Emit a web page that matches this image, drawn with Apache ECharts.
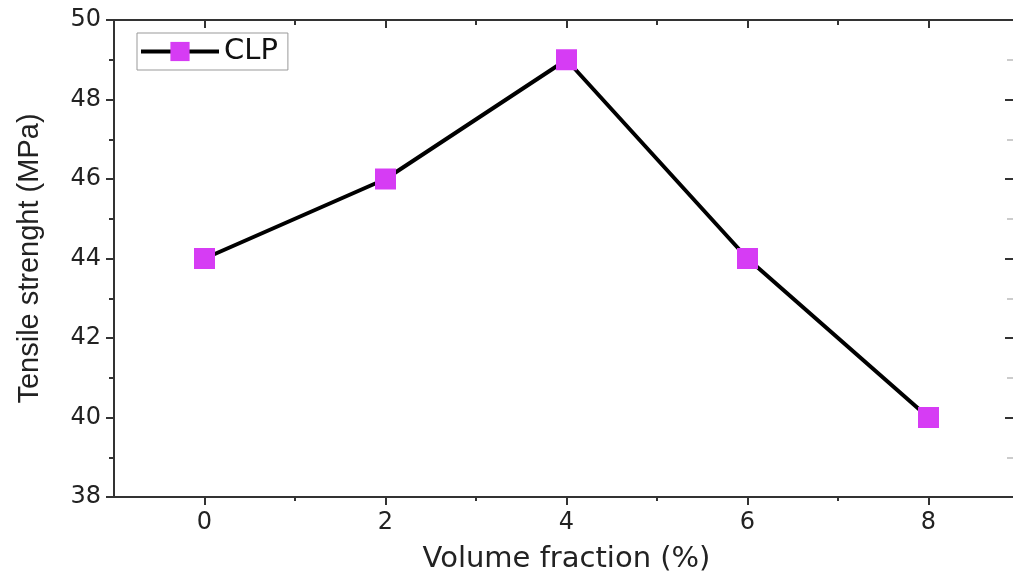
<!DOCTYPE html>
<html>
<head>
<meta charset="utf-8">
<script src="https://cdn.jsdelivr.net/npm/echarts@6/dist/echarts.min.js"></script>
<style>
  html, body { margin: 0; padding: 0; background: #fff; }
  #chart { width: 1013px; height: 577px; }
</style>
</head>
<body>
<div id="chart"></div>
<script>
// volume fraction (%) and tensile strength (MPa)
var fractions = [0, 2, 4, 6, 8];
var strength = [44, 46, 49, 44, 40];
var majorX = [0, 2, 4, 6, 8];
var minorX = [1, 3, 5, 7];

var font = 'DejaVu Sans, Liberation Sans, sans-serif';
var myChart = echarts.init(document.getElementById('chart'));

var axisColor = '#333';
var option = {
  animation: false,
  grid: { left: 114, top: 20, width: 905, height: 477, containLabel: false, outerBoundsMode: 'none' },
  legend: {
    data: ['CLP'],
    left: 137, top: 33,
    orient: 'vertical',
    padding: [4, 10, 4, 2],
    borderColor: '#999', borderWidth: 1,
    itemWidth: 78, itemHeight: 24, itemGap: 6,
    lineStyle: { width: 4, color: '#000' },
    textStyle: { fontFamily: font, fontSize: 29, color: '#111' }
  },
  xAxis: [
    {
      type: 'value', min: -1, max: 9, position: 'bottom',
      name: 'Volume fraction (%)', nameLocation: 'middle', nameGap: 48,
      nameTextStyle: { fontFamily: font, fontSize: 29, color: '#222' },
      axisLine: { show: true, onZero: false, lineStyle: { color: axisColor, width: 2 } },
      axisTick: { show: true, length: 8, customValues: majorX, lineStyle: { color: axisColor, width: 2 } },
      axisLabel: { customValues: majorX, fontFamily: font, fontSize: 24, color: '#222', margin: 14 },
      splitLine: { show: false }
    },
    {
      type: 'value', min: -1, max: 9, position: 'bottom',
      axisLine: { show: false, onZero: false },
      axisTick: { show: true, length: 4, customValues: minorX, lineStyle: { color: axisColor, width: 2 } },
      axisLabel: { show: false },
      splitLine: { show: false }
    },
    {
      type: 'value', min: -1, max: 9, position: 'top',
      axisLine: { show: true, onZero: false, lineStyle: { color: axisColor, width: 2 } },
      axisTick: { show: true, inside: true, length: 8, customValues: majorX, lineStyle: { color: axisColor, width: 2 } },
      axisLabel: { show: false },
      splitLine: { show: false }
    },
    {
      type: 'value', min: -1, max: 9, position: 'top',
      axisLine: { show: false, onZero: false },
      axisTick: { show: true, inside: true, length: 5, customValues: minorX, lineStyle: { color: axisColor, width: 2 } },
      axisLabel: { show: false },
      splitLine: { show: false }
    }
  ],
  yAxis: [
    {
      type: 'value', min: 38, max: 50, interval: 2, position: 'left',
      name: 'Tensile strenght (MPa)', nameLocation: 'middle', nameGap: 70, nameRotate: 90,
      nameTextStyle: { fontFamily: 'Liberation Sans, Arial, sans-serif', fontSize: 29, color: '#222' },
      axisLine: { show: true, onZero: false, lineStyle: { color: axisColor, width: 2 } },
      axisTick: { show: true, length: 8, lineStyle: { color: axisColor, width: 2 } },
      minorTick: { show: true, splitNumber: 2, length: 5, lineStyle: { color: axisColor, width: 2 } },
      axisLabel: { fontFamily: font, fontSize: 24, color: '#222', margin: 13 },
      splitLine: { show: false }
    },
    {
      type: 'value', min: 38, max: 50, interval: 2, position: 'right',
      axisLine: { show: true, onZero: false, lineStyle: { color: axisColor, width: 2 } },
      axisTick: { show: true, inside: true, length: 14, lineStyle: { color: axisColor, width: 2 } },
      minorTick: { show: true, splitNumber: 2, length: 12, lineStyle: { color: '#ccc', width: 2 } },
      axisLabel: { show: false },
      splitLine: { show: false }
    }
  ],
  series: [
    {
      name: 'CLP',
      type: 'line',
      data: fractions.map(function (f, i) { return [f, strength[i]]; }),
      symbol: 'rect',
      symbolSize: 21,
      lineStyle: { color: '#000', width: 4 },
      itemStyle: { color: '#d63cf4', borderWidth: 0 }
    }
  ]
};

myChart.setOption(option);
</script>
</body>
</html>
